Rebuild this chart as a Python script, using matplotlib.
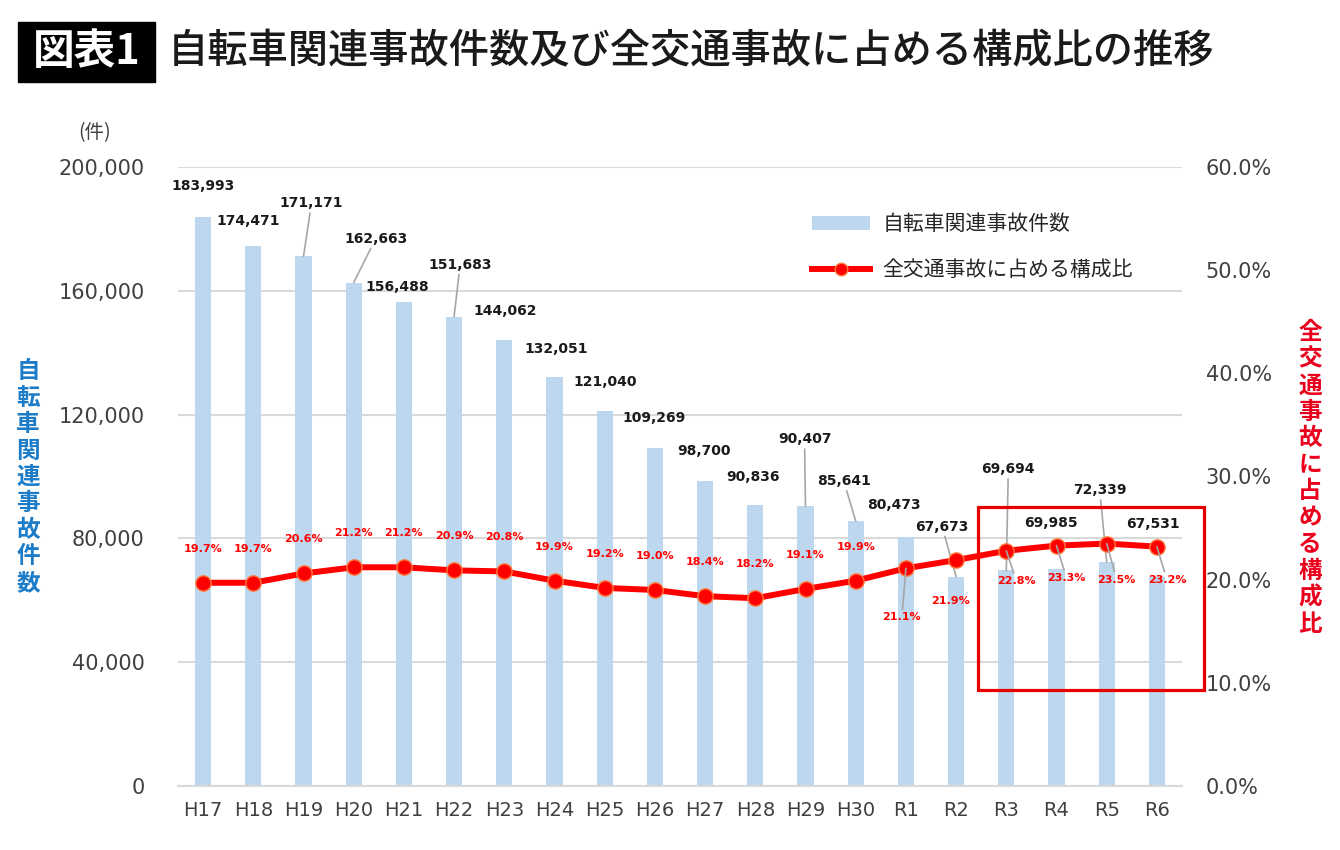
import matplotlib.pyplot as plt
from matplotlib.patches import Rectangle, Patch
from matplotlib.lines import Line2D
from matplotlib.ticker import FuncFormatter
from matplotlib.transforms import blended_transform_factory

plt.rcParams['font.family'] = ['DejaVu Sans', 'Noto Sans CJK JP']
JP = ['Noto Sans CJK JP', 'DejaVu Sans']

years = ['H17', 'H18', 'H19', 'H20', 'H21', 'H22', 'H23', 'H24', 'H25', 'H26',
         'H27', 'H28', 'H29', 'H30', 'R1', 'R2', 'R3', 'R4', 'R5', 'R6']
# 自転車関連事故件数
accidents = [183993, 174471, 171171, 162663, 156488, 151683, 144062, 132051, 121040, 109269,
             98700, 90836, 90407, 85641, 80473, 67673, 69694, 69985, 72339, 67531]
# 全交通事故に占める構成比 (%)
share = [19.7, 19.7, 20.6, 21.2, 21.2, 20.9, 20.8, 19.9, 19.2, 19.0,
         18.4, 18.2, 19.1, 19.9, 21.1, 21.9, 22.8, 23.3, 23.5, 23.2]

# label offsets in pixels (dx, dy) from the bar top / marker
bar_lbl_off = [(0, 31), (-5, 25), (8, 53), (22, 44), (-7, 15), (6, 52), (1, 29), (2, 28),
               (0, 29), (-1, 30), (-1, 30), (-2, 28), (-1, 67), (-12, 40), (-12, 32),
               (-14, 50), (2, 101), (-6, 46), (-7, 72), (-4, 53)]
bar_leader = {2, 3, 5, 12, 13, 15, 16, 18}
pct_lbl_off = [(0, 34)] * 14 + [(-4, -49), (-6, -41), (10, -30), (10, -32), (10, -36), (10, -33)]
pct_leader = {14, 16, 17, 18, 19}

BAR = '#BDD7EE'
RED = '#FF0000'
GRID = '#D9D9D9'
TXT = '#404040'
LEAD = '#A6A6A6'

fig = plt.figure(figsize=(13.4, 8.5), dpi=100)
ax = fig.add_axes([178 / 1340, 1 - 786 / 850, 1004 / 1340, 619 / 850])
x = list(range(len(years)))

ax.bar(x, accidents, width=0.32, color=BAR, zorder=2)
ax.set_xlim(-0.5, len(years) - 0.5)
ax.set_ylim(0, 200000)
ax.set_yticks(range(0, 200001, 40000))
ax.yaxis.set_major_formatter(FuncFormatter(lambda v, p: f'{int(v):,}'))
ax.set_xticks(x)
ax.set_xticklabels(years)
ax.yaxis.grid(True, color=GRID, lw=1.5)
ax.set_axisbelow(True)
for s in ['left', 'right', 'top']:
    ax.spines[s].set_visible(False)
ax.spines['bottom'].set_color(GRID)
ax.spines['bottom'].set_linewidth(1.5)
ax.tick_params(axis='y', length=0, pad=24, labelsize=15, labelcolor=TXT)
ax.tick_params(axis='x', length=0, pad=11, labelsize=14, labelcolor=TXT)

for i, v in enumerate(accidents):
    dx, dy = bar_lbl_off[i]
    ap = dict(arrowstyle='-', color=LEAD, lw=1.2, shrinkA=0, shrinkB=0) if i in bar_leader else None
    ax.annotate(f'{v:,}', xy=(i, v), xytext=(dx, dy), textcoords='offset pixels',
                ha='center', va='center', fontsize=10, fontweight='bold', color='#1A1A1A',
                arrowprops=ap, zorder=3)

ax2 = ax.twinx()
ax2.set_ylim(0, 60)
ax2.set_yticks(range(0, 61, 10))
ax2.yaxis.set_major_formatter(FuncFormatter(lambda v, p: f'{v:.1f}%'))
for s in ax2.spines.values():
    s.set_visible(False)
ax2.tick_params(axis='y', length=0, pad=17, labelsize=15, labelcolor=TXT)

ax2.plot(x, share, color=RED, lw=4.3, marker='o', markersize=11,
         markerfacecolor=RED, markeredgecolor='#FF7A3D', markeredgewidth=1, zorder=4)

for i, v in enumerate(share):
    dx, dy = pct_lbl_off[i]
    ap = dict(arrowstyle='-', color=LEAD, lw=1.2, shrinkA=0, shrinkB=0) if i in pct_leader else None
    ax2.annotate(f'{v:.1f}%', xy=(i, v), xytext=(dx, dy), textcoords='offset pixels',
                 ha='center', va='center', fontsize=8, fontweight='bold', color=RED,
                 arrowprops=ap, zorder=5)

# highlight box R3-R6
tr = blended_transform_factory(ax2.transData, ax2.transAxes)
r3 = years.index('R3')
x0 = r3 - 0.56
x1 = len(years) - 1 + 0.94
ax2.add_patch(Rectangle((x0, 0.155), x1 - x0, 0.296,
                        transform=tr, fill=False, edgecolor='#E60000', lw=2.3,
                        clip_on=False, zorder=3))

handles = [Patch(facecolor=BAR, edgecolor='none'),
           Line2D([], [], color=RED, lw=4.3, marker='o', markersize=9,
                  markerfacecolor=RED, markeredgecolor='#FF7A3D')]
ax2.legend(handles, ['自転車関連事故件数', '全交通事故に占める構成比'],
           loc='upper left', bbox_to_anchor=(0.631, 0.925), frameon=False,
           prop={'family': JP, 'size': 15}, labelcolor='#262626',
           handlelength=2.8, handletextpad=0.6, labelspacing=1.15,
           borderpad=0, borderaxespad=0)

# axis titles
fig.text(95 / 1340, 1 - 133 / 850, '(件)', family=JP, fontsize=14, color=TXT,
         ha='center', va='center')
fig.text(28 / 1340, 1 - 477 / 850, '\n'.join('自転車関連事故件数'), family=JP,
         fontsize=17, fontweight='bold', color='#1C7CC8', ha='center', va='center',
         linespacing=1.13)
fig.text(1310 / 1340, 1 - 478 / 850, '\n'.join('全交通事故に占める構成比'), family=JP,
         fontsize=17, fontweight='bold', color='#E8001C', ha='center', va='center',
         linespacing=1.13)

# title
fig.patches.append(Rectangle((18 / 1340, 1 - 82 / 850), 137 / 1340, 60 / 850,
                             transform=fig.transFigure, color='black'))
fig.text(86.5 / 1340, 1 - 52 / 850, '図表1', family=JP, fontsize=30, fontweight='bold',
         color='white', ha='center', va='center')
fig.text(168 / 1340, 1 - 52 / 850, '自転車関連事故件数及び全交通事故に占める構成比の推移',
         family=JP, fontsize=29, fontweight='medium', color='#1A1A1A', ha='left', va='center')

fig.savefig('out.png', dpi=100)
